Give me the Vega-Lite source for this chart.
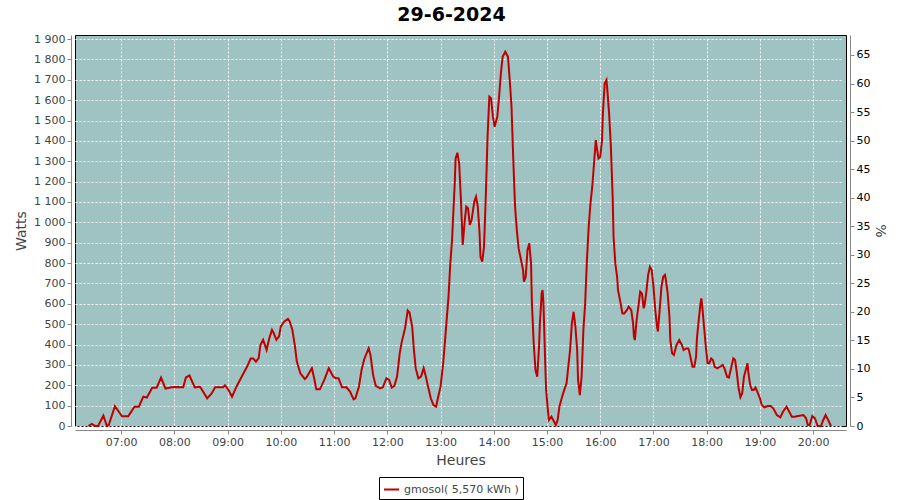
{
  "$schema": "https://vega.github.io/schema/vega-lite/v6.json",
  "autosize": {"type": "none"},
  "width": 771,
  "height": 391,
  "padding": {"left": 75, "top": 35, "right": 54, "bottom": 74},
  "background": "white",
  "title": {"text": "29-6-2024", "font": "DejaVu Sans", "fontSize": 19, "fontWeight": "bold", "color": "black", "anchor": "middle", "offset": 8, "dx": -9},
  "config": {
    "locale": {"number": {"decimal": ",", "thousands": " ", "grouping": [3], "currency": ["", ""]}},
    "view": {"fill": "#9EC3C2", "stroke": "black", "strokeWidth": 1},
    "axis": {"labelFont": "DejaVu Sans", "labelFontSize": 11, "labelColor": "#444", "titleFont": "DejaVu Sans", "titleFontSize": 14, "titleFontWeight": "normal", "titleColor": "#444", "domainColor": "#888", "tickColor": "#888", "tickSize": 4, "labelPadding": 2, "offset": 4, "gridColor": "white", "gridDash": [2, 2], "gridOpacity": 1, "gridWidth": 1}
  },
  "data": {
    "values": [
      {"heure":"2024-06-29T06:23","watts":0},{"heure":"2024-06-29T06:27","watts":10},{"heure":"2024-06-29T06:31","watts":0},{"heure":"2024-06-29T06:34","watts":0},{"heure":"2024-06-29T06:40","watts":51},{"heure":"2024-06-29T06:44","watts":0},{"heure":"2024-06-29T06:46","watts":5},{"heure":"2024-06-29T06:53","watts":97},
      {"heure":"2024-06-29T07:01","watts":48},{"heure":"2024-06-29T07:08","watts":48},{"heure":"2024-06-29T07:15","watts":95},{"heure":"2024-06-29T07:20","watts":95},{"heure":"2024-06-29T07:25","watts":144},{"heure":"2024-06-29T07:29","watts":140},{"heure":"2024-06-29T07:35","watts":188},{"heure":"2024-06-29T07:40","watts":188},{"heure":"2024-06-29T07:45","watts":238},{"heure":"2024-06-29T07:50","watts":184},{"heure":"2024-06-29T07:57","watts":190},
      {"heure":"2024-06-29T08:01","watts":192},{"heure":"2024-06-29T08:10","watts":190},{"heure":"2024-06-29T08:13","watts":238},{"heure":"2024-06-29T08:17","watts":248},{"heure":"2024-06-29T08:23","watts":190},{"heure":"2024-06-29T08:29","watts":193},{"heure":"2024-06-29T08:37","watts":136},{"heure":"2024-06-29T08:42","watts":160},{"heure":"2024-06-29T08:46","watts":190},{"heure":"2024-06-29T08:55","watts":190},{"heure":"2024-06-29T08:57","watts":200},
      {"heure":"2024-06-29T09:01","watts":177},{"heure":"2024-06-29T09:05","watts":144},{"heure":"2024-06-29T09:10","watts":193},{"heure":"2024-06-29T09:16","watts":243},{"heure":"2024-06-29T09:22","watts":292},{"heure":"2024-06-29T09:26","watts":331},{"heure":"2024-06-29T09:29","watts":331},{"heure":"2024-06-29T09:32","watts":316},{"heure":"2024-06-29T09:35","watts":333},{"heure":"2024-06-29T09:37","watts":398},{"heure":"2024-06-29T09:40","watts":423},{"heure":"2024-06-29T09:44","watts":374},{"heure":"2024-06-29T09:47","watts":431},{"heure":"2024-06-29T09:50","watts":472},{"heure":"2024-06-29T09:52","watts":456},{"heure":"2024-06-29T09:55","watts":423},{"heure":"2024-06-29T09:58","watts":440},
      {"heure":"2024-06-29T10:00","watts":489},{"heure":"2024-06-29T10:04","watts":513},{"heure":"2024-06-29T10:08","watts":526},{"heure":"2024-06-29T10:10","watts":513},{"heure":"2024-06-29T10:13","watts":472},{"heure":"2024-06-29T10:16","watts":390},{"heure":"2024-06-29T10:18","watts":316},{"heure":"2024-06-29T10:22","watts":259},{"heure":"2024-06-29T10:27","watts":231},{"heure":"2024-06-29T10:29","watts":239},{"heure":"2024-06-29T10:35","watts":284},{"heure":"2024-06-29T10:38","watts":226},{"heure":"2024-06-29T10:40","watts":180},{"heure":"2024-06-29T10:44","watts":180},{"heure":"2024-06-29T10:49","watts":226},{"heure":"2024-06-29T10:54","watts":284},{"heure":"2024-06-29T10:59","watts":243},
      {"heure":"2024-06-29T11:02","watts":234},{"heure":"2024-06-29T11:05","watts":234},{"heure":"2024-06-29T11:09","watts":190},{"heure":"2024-06-29T11:14","watts":190},{"heure":"2024-06-29T11:18","watts":169},{"heure":"2024-06-29T11:22","watts":131},{"heure":"2024-06-29T11:24","watts":136},{"heure":"2024-06-29T11:28","watts":193},{"heure":"2024-06-29T11:31","watts":275},{"heure":"2024-06-29T11:34","watts":328},{"heure":"2024-06-29T11:39","watts":382},{"heure":"2024-06-29T11:41","watts":349},{"heure":"2024-06-29T11:44","watts":251},{"heure":"2024-06-29T11:47","watts":197},{"heure":"2024-06-29T11:52","watts":185},{"heure":"2024-06-29T11:55","watts":190},{"heure":"2024-06-29T11:59","watts":234},
      {"heure":"2024-06-29T12:02","watts":226},{"heure":"2024-06-29T12:05","watts":189},{"heure":"2024-06-29T12:08","watts":197},{"heure":"2024-06-29T12:11","watts":243},{"heure":"2024-06-29T12:14","watts":357},{"heure":"2024-06-29T12:16","watts":407},{"heure":"2024-06-29T12:20","watts":480},{"heure":"2024-06-29T12:23","watts":567},{"heure":"2024-06-29T12:25","watts":557},{"heure":"2024-06-29T12:28","watts":489},{"heure":"2024-06-29T12:30","watts":374},{"heure":"2024-06-29T12:32","watts":284},{"heure":"2024-06-29T12:35","watts":234},{"heure":"2024-06-29T12:38","watts":243},{"heure":"2024-06-29T12:41","watts":284},{"heure":"2024-06-29T12:43","watts":251},{"heure":"2024-06-29T12:46","watts":193},{"heure":"2024-06-29T12:49","watts":136},{"heure":"2024-06-29T12:52","watts":103},{"heure":"2024-06-29T12:55","watts":95},{"heure":"2024-06-29T12:57","watts":136},
      {"heure":"2024-06-29T13:00","watts":193},{"heure":"2024-06-29T13:03","watts":308},{"heure":"2024-06-29T13:06","watts":471},{"heure":"2024-06-29T13:09","watts":635},{"heure":"2024-06-29T13:11","watts":799},{"heure":"2024-06-29T13:13","watts":913},{"heure":"2024-06-29T13:14","watts":1011},{"heure":"2024-06-29T13:16","watts":1191},{"heure":"2024-06-29T13:17","watts":1314},{"heure":"2024-06-29T13:19","watts":1342},{"heure":"2024-06-29T13:21","watts":1289},{"heure":"2024-06-29T13:23","watts":1109},{"heure":"2024-06-29T13:25","watts":889},{"heure":"2024-06-29T13:27","watts":995},{"heure":"2024-06-29T13:29","watts":1077},{"heure":"2024-06-29T13:31","watts":1069},{"heure":"2024-06-29T13:33","watts":987},{"heure":"2024-06-29T13:35","watts":1011},{"heure":"2024-06-29T13:38","watts":1101},{"heure":"2024-06-29T13:40","watts":1126},{"heure":"2024-06-29T13:42","watts":1077},{"heure":"2024-06-29T13:44","watts":946},{"heure":"2024-06-29T13:45","watts":831},{"heure":"2024-06-29T13:47","watts":807},{"heure":"2024-06-29T13:49","watts":880},{"heure":"2024-06-29T13:51","watts":1126},{"heure":"2024-06-29T13:53","watts":1420},{"heure":"2024-06-29T13:55","watts":1617},{"heure":"2024-06-29T13:57","watts":1609},{"heure":"2024-06-29T13:59","watts":1519},
      {"heure":"2024-06-29T14:01","watts":1469},{"heure":"2024-06-29T14:04","watts":1519},{"heure":"2024-06-29T14:06","watts":1617},{"heure":"2024-06-29T14:08","watts":1731},{"heure":"2024-06-29T14:10","watts":1813},{"heure":"2024-06-29T14:13","watts":1838},{"heure":"2024-06-29T14:16","watts":1813},{"heure":"2024-06-29T14:18","watts":1699},{"heure":"2024-06-29T14:20","watts":1568},{"heure":"2024-06-29T14:22","watts":1306},{"heure":"2024-06-29T14:24","watts":1077},{"heure":"2024-06-29T14:26","watts":962},{"heure":"2024-06-29T14:28","watts":872},{"heure":"2024-06-29T14:30","watts":831},{"heure":"2024-06-29T14:33","watts":766},{"heure":"2024-06-29T14:34","watts":709},{"heure":"2024-06-29T14:36","watts":733},{"heure":"2024-06-29T14:38","watts":864},{"heure":"2024-06-29T14:40","watts":897},{"heure":"2024-06-29T14:42","watts":799},{"heure":"2024-06-29T14:43","watts":602},{"heure":"2024-06-29T14:45","watts":406},{"heure":"2024-06-29T14:47","watts":275},{"heure":"2024-06-29T14:49","watts":242},{"heure":"2024-06-29T14:51","watts":389},{"heure":"2024-06-29T14:52","watts":504},{"heure":"2024-06-29T14:54","watts":651},{"heure":"2024-06-29T14:55","watts":668},{"heure":"2024-06-29T14:56","watts":602},{"heure":"2024-06-29T14:58","watts":308},{"heure":"2024-06-29T14:59","watts":177},
      {"heure":"2024-06-29T15:01","watts":79},{"heure":"2024-06-29T15:02","watts":29},{"heure":"2024-06-29T15:05","watts":46},{"heure":"2024-06-29T15:07","watts":29},{"heure":"2024-06-29T15:10","watts":5},{"heure":"2024-06-29T15:12","watts":29},{"heure":"2024-06-29T15:14","watts":95},{"heure":"2024-06-29T15:17","watts":144},{"heure":"2024-06-29T15:20","watts":185},{"heure":"2024-06-29T15:22","watts":209},{"heure":"2024-06-29T15:24","watts":291},{"heure":"2024-06-29T15:26","watts":373},{"heure":"2024-06-29T15:28","watts":504},{"heure":"2024-06-29T15:30","watts":561},{"heure":"2024-06-29T15:32","watts":488},{"heure":"2024-06-29T15:34","watts":373},{"heure":"2024-06-29T15:35","watts":226},{"heure":"2024-06-29T15:37","watts":152},{"heure":"2024-06-29T15:39","watts":242},{"heure":"2024-06-29T15:41","watts":471},{"heure":"2024-06-29T15:43","watts":602},{"heure":"2024-06-29T15:45","watts":815},{"heure":"2024-06-29T15:47","watts":979},{"heure":"2024-06-29T15:49","watts":1093},{"heure":"2024-06-29T15:51","watts":1175},{"heure":"2024-06-29T15:53","watts":1289},{"heure":"2024-06-29T15:55","watts":1404},{"heure":"2024-06-29T15:56","watts":1371},{"heure":"2024-06-29T15:58","watts":1314},
      {"heure":"2024-06-29T16:00","watts":1322},{"heure":"2024-06-29T16:02","watts":1404},{"heure":"2024-06-29T16:03","watts":1535},{"heure":"2024-06-29T16:05","watts":1682},{"heure":"2024-06-29T16:07","watts":1699},{"heure":"2024-06-29T16:08","watts":1649},{"heure":"2024-06-29T16:10","watts":1535},{"heure":"2024-06-29T16:12","watts":1371},{"heure":"2024-06-29T16:14","watts":1126},{"heure":"2024-06-29T16:15","watts":929},{"heure":"2024-06-29T16:17","watts":799},{"heure":"2024-06-29T16:19","watts":733},{"heure":"2024-06-29T16:20","watts":668},{"heure":"2024-06-29T16:23","watts":602},{"heure":"2024-06-29T16:25","watts":553},{"heure":"2024-06-29T16:27","watts":553},{"heure":"2024-06-29T16:30","watts":569},{"heure":"2024-06-29T16:32","watts":586},{"heure":"2024-06-29T16:35","watts":569},{"heure":"2024-06-29T16:37","watts":504},{"heure":"2024-06-29T16:38","watts":439},{"heure":"2024-06-29T16:39","watts":422},{"heure":"2024-06-29T16:41","watts":520},{"heure":"2024-06-29T16:43","watts":586},{"heure":"2024-06-29T16:45","watts":660},{"heure":"2024-06-29T16:47","watts":651},{"heure":"2024-06-29T16:49","watts":578},{"heure":"2024-06-29T16:50","watts":594},{"heure":"2024-06-29T16:52","watts":660},{"heure":"2024-06-29T16:54","watts":742},{"heure":"2024-06-29T16:56","watts":782},{"heure":"2024-06-29T16:58","watts":766},
      {"heure":"2024-06-29T17:00","watts":684},{"heure":"2024-06-29T17:02","watts":570},{"heure":"2024-06-29T17:04","watts":488},{"heure":"2024-06-29T17:05","watts":464},{"heure":"2024-06-29T17:07","watts":570},{"heure":"2024-06-29T17:09","watts":684},{"heure":"2024-06-29T17:11","watts":733},{"heure":"2024-06-29T17:13","watts":742},{"heure":"2024-06-29T17:14","watts":717},{"heure":"2024-06-29T17:16","watts":651},{"heure":"2024-06-29T17:18","watts":537},{"heure":"2024-06-29T17:19","watts":422},{"heure":"2024-06-29T17:21","watts":357},{"heure":"2024-06-29T17:23","watts":349},{"heure":"2024-06-29T17:26","watts":398},{"heure":"2024-06-29T17:29","watts":422},{"heure":"2024-06-29T17:32","watts":398},{"heure":"2024-06-29T17:34","watts":373},{"heure":"2024-06-29T17:37","watts":381},{"heure":"2024-06-29T17:39","watts":381},{"heure":"2024-06-29T17:40","watts":373},{"heure":"2024-06-29T17:42","watts":332},{"heure":"2024-06-29T17:44","watts":291},{"heure":"2024-06-29T17:46","watts":291},{"heure":"2024-06-29T17:48","watts":340},{"heure":"2024-06-29T17:49","watts":430},{"heure":"2024-06-29T17:51","watts":520},{"heure":"2024-06-29T17:53","watts":602},{"heure":"2024-06-29T17:54","watts":627},{"heure":"2024-06-29T17:55","watts":586},{"heure":"2024-06-29T17:57","watts":488},{"heure":"2024-06-29T17:59","watts":390},
      {"heure":"2024-06-29T18:01","watts":308},{"heure":"2024-06-29T18:03","watts":308},{"heure":"2024-06-29T18:05","watts":332},{"heure":"2024-06-29T18:07","watts":324},{"heure":"2024-06-29T18:09","watts":291},{"heure":"2024-06-29T18:12","watts":283},{"heure":"2024-06-29T18:15","watts":291},{"heure":"2024-06-29T18:18","watts":300},{"heure":"2024-06-29T18:20","watts":283},{"heure":"2024-06-29T18:23","watts":242},{"heure":"2024-06-29T18:25","watts":238},{"heure":"2024-06-29T18:27","watts":275},{"heure":"2024-06-29T18:30","watts":332},{"heure":"2024-06-29T18:32","watts":324},{"heure":"2024-06-29T18:34","watts":259},{"heure":"2024-06-29T18:36","watts":185},{"heure":"2024-06-29T18:38","watts":141},{"heure":"2024-06-29T18:40","watts":160},{"heure":"2024-06-29T18:42","watts":242},{"heure":"2024-06-29T18:44","watts":275},{"heure":"2024-06-29T18:46","watts":308},{"heure":"2024-06-29T18:47","watts":259},{"heure":"2024-06-29T18:49","watts":201},{"heure":"2024-06-29T18:51","watts":177},{"heure":"2024-06-29T18:53","watts":177},{"heure":"2024-06-29T18:55","watts":189},{"heure":"2024-06-29T18:57","watts":169},
      {"heure":"2024-06-29T19:00","watts":136},{"heure":"2024-06-29T19:02","watts":103},{"heure":"2024-06-29T19:05","watts":92},{"heure":"2024-06-29T19:09","watts":98},{"heure":"2024-06-29T19:12","watts":98},{"heure":"2024-06-29T19:15","watts":87},{"heure":"2024-06-29T19:19","watts":54},{"heure":"2024-06-29T19:23","watts":43},{"heure":"2024-06-29T19:26","watts":70},{"heure":"2024-06-29T19:30","watts":95},{"heure":"2024-06-29T19:33","watts":70},{"heure":"2024-06-29T19:36","watts":46},{"heure":"2024-06-29T19:39","watts":46},{"heure":"2024-06-29T19:43","watts":49},{"heure":"2024-06-29T19:49","watts":54},{"heure":"2024-06-29T19:52","watts":38},{"heure":"2024-06-29T19:54","watts":5},{"heure":"2024-06-29T19:56","watts":5},{"heure":"2024-06-29T19:59","watts":49},
      {"heure":"2024-06-29T20:02","watts":38},{"heure":"2024-06-29T20:05","watts":0},{"heure":"2024-06-29T20:09","watts":0},{"heure":"2024-06-29T20:11","watts":26},{"heure":"2024-06-29T20:14","watts":54},{"heure":"2024-06-29T20:17","watts":29},{"heure":"2024-06-29T20:20","watts":0}
    ]
  },
  "layer": [
    {
      "mark": {"type": "line", "strokeWidth": 2, "interpolate": "linear"},
      "encoding": {
        "x": {
          "field": "heure", "type": "temporal",
          "scale": {"domain": [{"year": 2024, "month": 6, "date": 29, "hours": 6, "minutes": 8}, {"year": 2024, "month": 6, "date": 29, "hours": 20, "minutes": 37}]},
          "axis": {"title": "Heures", "format": "%H:%M", "grid": true, "titlePadding": 6,
            "values": [{"year": 2024, "month": 6, "date": 29, "hours": 7}, {"year": 2024, "month": 6, "date": 29, "hours": 8}, {"year": 2024, "month": 6, "date": 29, "hours": 9}, {"year": 2024, "month": 6, "date": 29, "hours": 10}, {"year": 2024, "month": 6, "date": 29, "hours": 11}, {"year": 2024, "month": 6, "date": 29, "hours": 12}, {"year": 2024, "month": 6, "date": 29, "hours": 13}, {"year": 2024, "month": 6, "date": 29, "hours": 14}, {"year": 2024, "month": 6, "date": 29, "hours": 15}, {"year": 2024, "month": 6, "date": 29, "hours": 16}, {"year": 2024, "month": 6, "date": 29, "hours": 17}, {"year": 2024, "month": 6, "date": 29, "hours": 18}, {"year": 2024, "month": 6, "date": 29, "hours": 19}, {"year": 2024, "month": 6, "date": 29, "hours": 20}]}
        },
        "y": {
          "field": "watts", "type": "quantitative",
          "scale": {"domain": [0, 1920], "nice": false},
          "axis": {"title": "Watts", "values": [0,100,200,300,400,500,600,700,800,900,1000,1100,1200,1300,1400,1500,1600,1700,1800,1900], "format": ",d", "grid": true, "titlePadding": 5}
        },
        "color": {
          "datum": "gmosol( 5,570 kWh )",
          "scale": {"range": ["#C00000"]},
          "legend": {"title": null, "orient": "none", "legendX": 304, "legendY": 442, "symbolType": "stroke", "symbolStrokeWidth": 2, "symbolSize": 225, "labelFont": "DejaVu Sans", "labelFontSize": 11, "labelColor": "#444", "strokeColor": "black", "padding": 4, "labelOffset": 4}
        }
      }
    },
    {
      "mark": {"type": "rule", "opacity": 0},
      "encoding": {
        "y": {
          "datum": 0, "type": "quantitative",
          "scale": {"domain": [0, 68.5], "nice": false},
          "axis": {"orient": "right", "title": "%", "values": [0,5,10,15,20,25,30,35,40,45,50,55,60,65], "labelColor": "black", "grid": false, "titlePadding": 3}
        }
      }
    }
  ],
  "resolve": {"scale": {"y": "independent"}, "axis": {"y": "independent"}}
}
